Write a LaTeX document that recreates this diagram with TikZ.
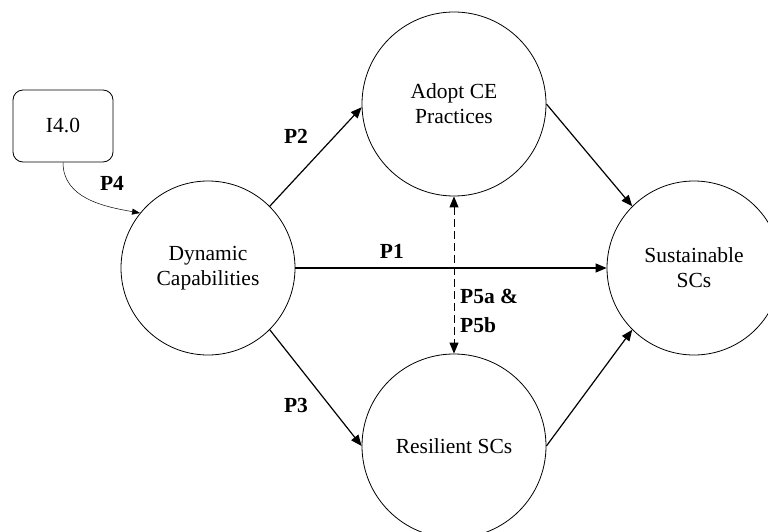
\documentclass[tikz,border=0pt]{standalone}
\usepackage{fontspec}
\setmainfont{Liberation Serif}
\usetikzlibrary{arrows.meta}

\tikzset{
	construct/.style = {draw, circle, inner sep = 0pt, line width = 0.8pt, align = center, font = \fontsize{21.5}{25}\selectfont},
	link/.style = {line width = 1.2pt, -{Triangle[length = 11pt, width = 9pt]}},
	plabel/.style = {font = \fontsize{21.5}{29}\selectfont\bfseries, inner sep = 0pt},
}

\begin{document}
\begin{tikzpicture}[x = 1pt, y = 1pt]
		\def\rs{174};
		\def\rb{184};
		
		\clip (0,0) rectangle (768,531);
		
		\node [construct, minimum size = \rs] (DC) at (208,263) {Dynamic\\Capabilities};
		\node [construct, minimum size = \rb] (CE) at (454,427) {Adopt CE\\Practices};
		\node [construct, minimum size = \rb] (RSC) at (454,85) {Resilient SCs};
		\node [construct, minimum size = \rs] (SSC) at (694,263) {Sustainable\\SCs};
		
		\node [draw, rounded corners = 10pt, line width = 0.8pt, minimum width = 100, minimum height = 72, font = \fontsize{21.5}{25}\selectfont] (I4) at (63,405) {I4.0};
		
		\draw [link] (DC.east) -- (SSC.west) node [plabel, pos = 0.31, above = 9pt] {P1};
		\draw [link] (DC.45) -- (CE.182);
		\draw [link] (DC.-45) -- (RSC.west);
		\draw [link] (CE.east) -- (SSC.135);
		\draw [link] (RSC.east) -- (SSC.-135);
		
		\draw [line width = 1pt, dash pattern = on 8pt off 4pt, {Triangle[length = 11pt, width = 9pt]}-{Triangle[length = 11pt, width = 9pt]}] (CE.south) -- (RSC.north);
		
		\draw [line width = 0.5pt, -{Triangle[length = 8pt, width = 6pt]}] (I4.south) to [out = -90, in = 170] (DC.141);
		
		\node [plabel] (p2) at (296,395) {P2};
		\node [plabel] (p3) at (296,126) {P3};
		\node [plabel] (p4) at (112,348) {P4};
		\node [plabel, anchor = west, align = left] (p5) at (460,220) {P5a \&\\P5b};
	\end{tikzpicture}
\end{document}
